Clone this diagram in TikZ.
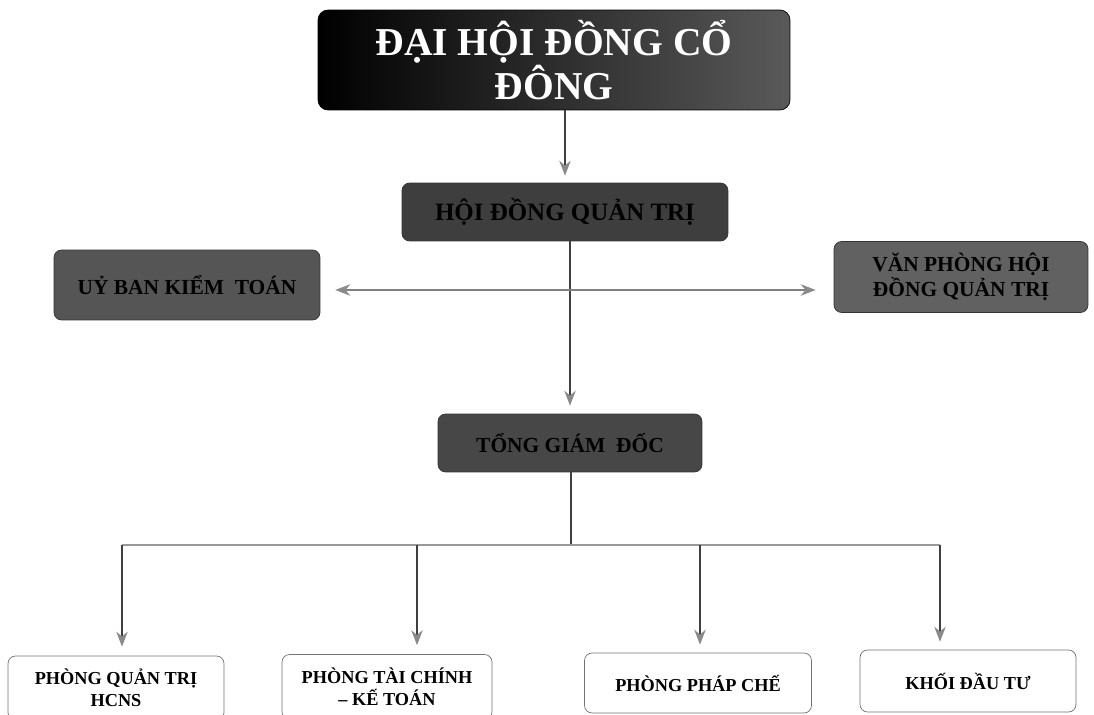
\documentclass[tikz,border=0pt]{standalone}
\usepackage{fontspec}
\setmainfont{Liberation Serif}
\usepackage{xcolor}
\usetikzlibrary{arrows.meta, positioning}

\definecolor{boxdark}{HTML}{3E3E3E}
\definecolor{boxmid}{HTML}{555555}
\definecolor{tipgray}{HTML}{8A8A8A}

\begin{document}
\begin{tikzpicture}[
    x=0.02cm, y=-0.02cm,
    every node/.style={font=\bfseries},
    topbox/.style={draw=black, rounded corners=2mm, align=center,
                   left color=black, right color=black!65, text=white,
                   minimum width=9.44cm, minimum height=2cm,
                   font=\bfseries\fontsize{22.5}{25}\selectfont},
    greybox/.style={draw=black!80, rounded corners=1.5mm, align=center,
                    fill=boxmid, text=black, font=\bfseries\fontsize{12.2}{14.5}\selectfont},
    unit/.style={draw=black!55, rounded corners=1.5mm, align=center,
                 fill=white, font=\bfseries\fontsize{10.4}{12.5}\selectfont},
    arr/.style={-{Stealth[length=3mm, width=2.3mm, color=tipgray]}, draw=black!75,
                line width=0.6pt},
    darr/.style={{Stealth[length=3mm, width=2.3mm, color=tipgray]}-{Stealth[length=3mm, width=2.3mm, color=tipgray]},
                 draw=black!50, line width=0.6pt},
  ]
  \useasboundingbox (0,0) rectangle (1094,715);

  \node[topbox] (dhdcd) at (554,60) {ĐẠI HỘI ĐỒNG CỔ\\ĐÔNG};
  \node[greybox, fill=boxdark, minimum width=6.52cm, minimum height=1.16cm,
        font=\bfseries\fontsize{14.2}{16}\selectfont] (hdqt) at (565,212) {HỘI ĐỒNG QUẢN TRỊ};
  \node[greybox, minimum width=5.32cm, minimum height=1.4cm] (ubkt) at (187,285) {UỶ BAN KIỂM~~TOÁN};
  \node[greybox, fill=black!62, minimum width=5.08cm, minimum height=1.42cm] (vp) at (961,277) {VĂN PHÒNG HỘI\\ĐỒNG QUẢN TRỊ};
  \node[greybox, fill=black!72, minimum width=5.28cm, minimum height=1.16cm] (tgd) at (570,443) {TỔNG GIÁM~~ĐỐC};

  % Phong ban
  \node[unit, minimum width=4.32cm, minimum height=1.28cm] (pqt) at (116,688) {PHÒNG QUẢN TRỊ\\HCNS};
  \node[unit, minimum width=4.2cm, minimum height=1.3cm] (ptc) at (387,687) {PHÒNG TÀI CHÍNH\\– KẾ TOÁN};
  \node[unit, minimum width=4.54cm, minimum height=1.2cm] (ppc) at (698,683) {PHÒNG PHÁP CHẾ};
  \node[unit, minimum width=4.32cm, minimum height=1.24cm] (kdt) at (968,681) {KHỐI ĐẦU TƯ};

  \coordinate (hub) at (570,290);
  \coordinate (split) at (571,545);
  \coordinate (b1) at (122,545);
  \coordinate (b2) at (417,545);
  \coordinate (b3) at (700,545);
  \coordinate (b4) at (940,545);

  \draw[arr] (dhdcd.south -| hdqt.north) -- ([yshift=1.4mm]hdqt.north);
  \draw[arr] (hdqt.south -| tgd.north) -- ([yshift=1.6mm]tgd.north);
  \draw[darr] ([xshift=3mm]ubkt.east |- hub) -- ([xshift=-3.6mm]vp.west |- hub);

  \draw[black!75, line width=0.6pt] (tgd.south -| split) -- (split);
  \draw[black!40, line width=0.8pt] (b1) -- (b4);
  \draw[arr] (b1) -- ([yshift=1.8mm]b1 |- pqt.north);
  \draw[arr] (b2) -- ([yshift=1.8mm]b2 |- ptc.north);
  \draw[arr] (b3) -- ([yshift=1.6mm]b3 |- ppc.north);
  \draw[arr] (b4) -- ([yshift=1.6mm]b4 |- kdt.north);
\end{tikzpicture}
\end{document}
